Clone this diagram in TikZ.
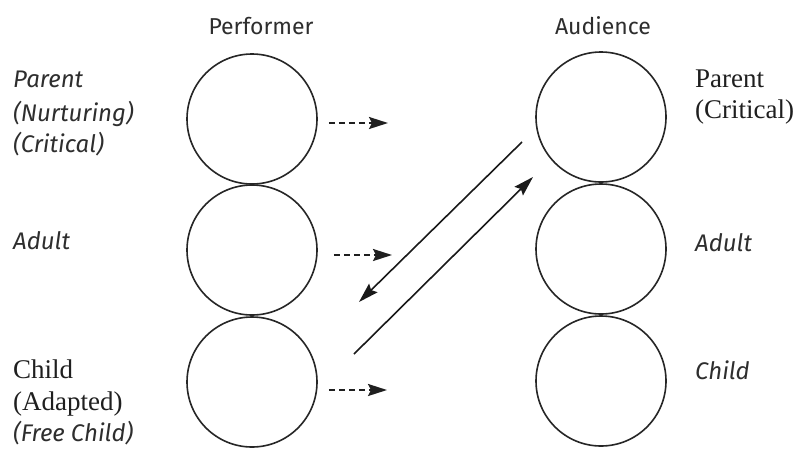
\documentclass[tikz,border=0pt]{standalone}
\usepackage{fontspec}
\setmainfont{Liberation Serif}
\newfontfamily\labsans{Fira Sans}
\usetikzlibrary{arrows.meta}
\tikzset{
  circ/.style={circle, draw=black!85, line width=1.6pt, minimum size=130pt, inner sep=0pt},
  sanslab/.style={font=\labsans\fontsize{24}{24}\selectfont\itshape, text=black!82, inner sep=0pt, anchor=base west},
  seriflab/.style={font=\fontsize{27}{27}\selectfont, text=black!88, inner sep=0pt, anchor=base west},
  headlab/.style={font=\labsans\fontsize{23}{23}\selectfont, text=black!82, inner sep=0pt, anchor=base},
  dasharrow/.style={line width=2.2pt, dash pattern=on 6pt off 4pt, draw=black!88, -{Stealth[length=19pt,width=12pt,inset=3pt]}},
  diagarrow/.style={line width=1.6pt, draw=black!90, -{Stealth[length=20pt,width=12pt,inset=3pt]}}
}
\begin{document}
\begin{tikzpicture}[x=1pt,y=-1pt]
\useasboundingbox[fill=white] (0,0) rectangle (797,448);
% headings
\node[headlab] (hperf) at (261,34) {Performer};
\node[headlab] (haud) at (603,34) {Audience};
% circles
\node[circ] (p1) at (252,119) {};
\node[circ] (p2) at (252,250) {};
\node[circ] (p3) at (252,382) {};
\node[circ] (a1) at (601,117) {};
\node[circ] (a2) at (601,249) {};
\node[circ] (a3) at (601,381) {};
% left labels
\node[sanslab] (lp1) at (13,87) {Parent};
\node[sanslab] (lp2) at (13,121) {(Nurturing)};
\node[sanslab] (lp3) at (13,152) {(Critical)};
\node[sanslab] (la) at (13,249) {Adult};
\node[seriflab] (lc1) at (13,378) {Child};
\node[seriflab] (lc2) at (13,410) {(Adapted)};
\node[sanslab] (lc3) at (13,441) {(Free Child)};
% right labels
\node[seriflab] (rp1) at (695,87) {Parent};
\node[seriflab] (rp2) at (695,118) {(Critical)};
\node[sanslab] (ra) at (695,251) {Adult};
\node[sanslab] (rc) at (695,379) {Child};
% dashed arrows
\coordinate (d1e) at (388,123);
\coordinate (d2e) at (392,255);
\coordinate (d3e) at (387,390);
\draw[dasharrow] (p1.east |- d1e) ++(11,0) -- (d1e);
\draw[dasharrow] (p2.east |- d2e) ++(16,0) -- (d2e);
\draw[dasharrow] (p3.east |- d3e) ++(11,0) -- (d3e);
% diagonal transactions
\coordinate (t1s) at (522,142);
\coordinate (t1e) at (359,302);
\coordinate (t2s) at (354,354);
\coordinate (t2e) at (533,177);
\draw[diagarrow] (t1s) -- (t1e);
\draw[diagarrow] (t2s) -- (t2e);
\end{tikzpicture}
\end{document}
